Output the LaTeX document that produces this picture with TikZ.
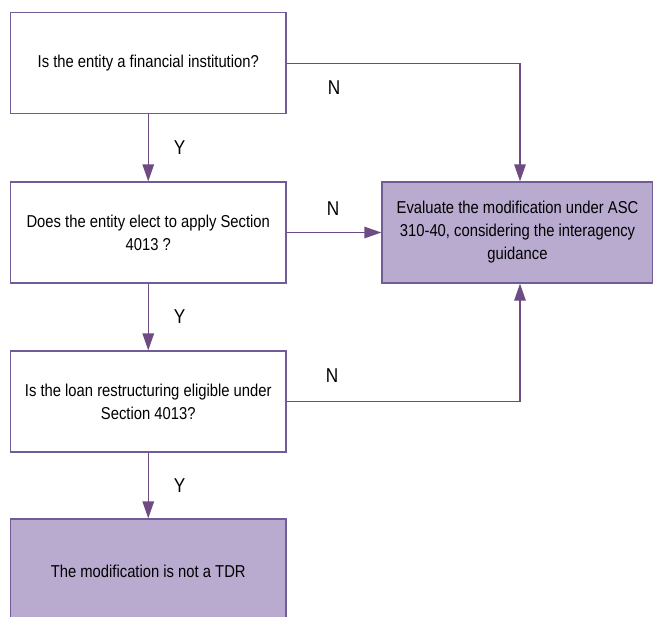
\documentclass[tikz,border=0pt]{standalone}
\usepackage{fontspec}
\setmainfont[FakeStretch=0.86]{Liberation Sans}
\usepackage{tikz}
\usetikzlibrary{arrows.meta,positioning}
\definecolor{boxline}{RGB}{112,92,150}
\definecolor{boxfill}{RGB}{185,170,208}
\definecolor{arrowcol}{RGB}{110,75,130}
\tikzset{every picture/.style={line width=1.3pt}}
\tikzstyle{question}=[draw=boxline,fill=white,minimum width=275.5pt,minimum height=101pt,align=center,inner sep=0pt,font=\fontsize{17.2}{23}\selectfont]
\tikzstyle{result}=[question,fill=boxfill]
\tikzstyle{lab}=[inner sep=0pt,font=\fontsize{20}{24}\selectfont]
\tikzstyle{flow}=[draw=arrowcol,-{Triangle[width=11.5pt,length=17pt]}]

\begin{document}
\begin{tikzpicture}[x=1pt,y=-1pt]
\clip (0,0) rectangle (653,616);
\node[question] (Q1) at (148.25,63.25) {Is the entity a financial institution?};
\node[question] (Q2) at (148.25,232.5) {Does the entity elect to apply Section\\4013 ?};
\node[question] (Q3) at (148.25,401.5) {Is the loan restructuring eligible under\\Section 4013?};
\node[result] (R1) at (148.25,571) [minimum height=104pt] {The modification is not a TDR};
\node[result] (R2) at (517.5,232.5) [minimum width=271pt] {Evaluate the modification under ASC\\310-40, considering the interagency\\guidance};
\node[lab] (N1) at (334,88) {N};
\node[lab] (N2) at (333,209) {N};
\node[lab] (N3) at (332,376) {N};
\draw[flow] (Q1) -- node [lab,right=25pt] {Y} (Q2);
\draw[flow] (Q2) -- node [lab,right=25pt] {Y} (Q3);
\draw[flow] (Q3) -- node [lab,right=25pt] {Y} (R1);
\draw[flow] (Q2) -- (R2);
\draw[flow] (Q1.east) -| ([xshift=2.5pt]R2.north);
\draw[flow] (Q3.east) -| ([xshift=2.5pt]R2.south);
\end{tikzpicture}
\end{document}
